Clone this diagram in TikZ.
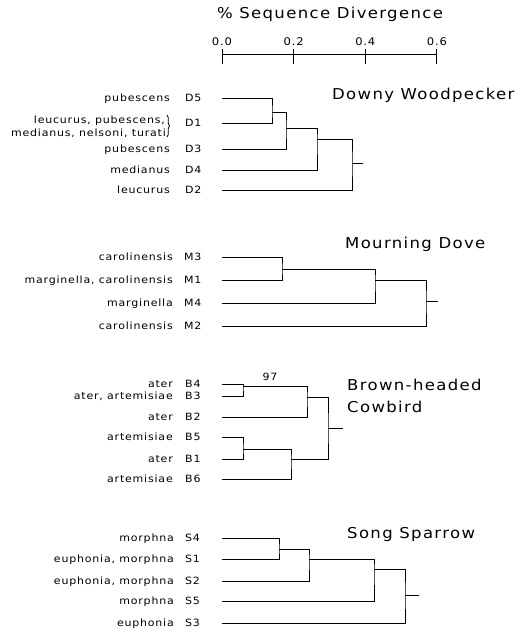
\documentclass[tikz,border=0pt]{standalone}
\usepackage{fontspec}
\setmainfont{DejaVu Sans}
\newfontfamily\labfont[FakeStretch=1.1,LetterSpace=8]{DejaVu Sans}
\newfontfamily\ttlfont[FakeStretch=1.1,LetterSpace=9]{DejaVu Sans}
\usetikzlibrary{decorations.pathreplacing}
\tikzset{
    branch/.style={line width=1pt},
    splab/.style={font=\labfont\fontsize{10}{12}\selectfont, anchor=base east, inner sep=0pt},
    idlab/.style={font=\labfont\fontsize{10}{12}\selectfont, anchor=base west, inner sep=0pt},
    ttl/.style={font=\ttlfont\fontsize{15}{17}\selectfont, anchor=west, inner sep=0pt}
}

\begin{document}
\begin{tikzpicture}[x=1pt,y=-1pt]
	\useasboundingbox (0,0) rectangle (525,633);

	% scale bar
	\node[ttl,anchor=center] (scaletitle) at (330,14) {\% Sequence Divergence};
	\coordinate (a0) at (222,54);
	\coordinate (a1) at (437,54);
	\draw[branch] (a0) -- (a1);
	\foreach \v [count=\i] in {0.0,0.2,0.4,0.6} {
		\coordinate (t\i) at ({222+\v*358.3},54);
		\draw[branch] (t\i) ++(0,-5) -- ++(0,15);
		\node[idlab,anchor=base,font=\labfont\fontsize{10.5}{12}\selectfont] (tl\i) at ({222+\v*358.3},45.5) {\v};
	}

	% Downy Woodpecker
	\node[ttl] (ttlD) at (332,95) {Downy Woodpecker};
	\foreach \y/\id/\sp in {98/D5/pubescens, 149/D3/pubescens, 170/D4/medianus, 190/D2/leucurus} {
		\coordinate (\id) at (222,\y);
		\node[idlab] (\id-id) at (185,\y+3.5) {\id};
		\node[splab] (\id-sp) at (170,\y+3.5) {\sp};
	}
	\coordinate (D1) at (222,123);
	\node[idlab] (D1-id) at (185,126.5) {D1};
	\node[splab] (D1-spa) at (165,123.5) {leucurus, pubescens,};
	\node[splab] (D1-spb) at (166,136.5) {medianus, nelsoni, turati};
	\draw[thick,decorate,decoration={brace,amplitude=2.5pt}] (167,115) -- (167,137);

	\coordinate (nD1) at (272,112);
	\coordinate (nD2) at (286,128);
	\coordinate (nD3) at (317,139);
	\coordinate (nD4) at (352,163);
	\coordinate (rD) at (363,163);
	\draw[branch] (D5) -| (nD1) |- (D1);
	\draw[branch] (nD1) -| (nD2) |- (D3);
	\draw[branch] (nD2) -| (nD3) |- (D4);
	\draw[branch] (nD3) -| (nD4) |- (D2);
	\draw[branch] (nD4) -- (rD);

	% Mourning Dove
	\node[ttl] (ttlM) at (345,244) {Mourning Dove};
	\foreach \y/\id/\sp in {257/M3/carolinensis, 280/M1/{marginella, carolinensis}, 303/M4/marginella, 326/M2/carolinensis} {
		\coordinate (\id) at (222,\y);
		\node[idlab] (\id-id) at (184,\y+3.5) {\id};
		\node[splab] (\id-sp) at (173,\y+3.5) {\sp};
	}
	\coordinate (nM1) at (282,269);
	\coordinate (nM2) at (375,280);
	\coordinate (nM3) at (426,301);
	\coordinate (rM) at (438,301);
	\draw[branch] (M3) -| (nM1) |- (M1);
	\draw[branch] (nM1) -| (nM2) |- (M4);
	\draw[branch] (nM2) -| (nM3) |- (M2);
	\draw[branch] (nM3) -- (rM);

	% Brown-headed Cowbird
	\node[ttl] (ttlB1) at (347,385) {Brown-headed};
	\node[ttl] (ttlB2) at (347,407) {Cowbird};
	\foreach \y/\id/\sp in {384/B4/ater, 396/B3/{ater, artemisiae}, 417/B2/ater, 437/B5/artemisiae, 459/B1/ater, 479/B6/artemisiae} {
		\coordinate (\id) at (222,\y);
		\node[idlab] (\id-id) at (185,\y+3.5) {\id};
		\node[splab] (\id-sp) at (173,\y+3.5) {\sp};
	}
	\coordinate (nB1) at (243,386);
	\coordinate (nB2) at (307,397);
	\coordinate (nB3) at (243,449);
	\coordinate (nB4) at (291,459);
	\coordinate (nB5) at (328,428);
	\coordinate (rB) at (343,428);
	\draw[branch] (B4) -| (nB1) |- (B3);
	\draw[branch] (nB1) -| (nB2) |- (B2);
	\draw[branch] (B5) -| (nB3) |- (B1);
	\draw[branch] (nB3) -| (nB4) |- (B6);
	\draw[branch] (nB2) -| (nB5) |- (nB4);
	\draw[branch] (nB5) -- (rB);
	\node[idlab,anchor=base] (boot) at (270,380.5) {97};

	% Song Sparrow
	\node[ttl] (ttlS) at (347,534) {Song Sparrow};
	\foreach \y/\id/\sp in {538/S4/morphna, 559/S1/{euphonia, morphna}, 581/S2/{euphonia, morphna}, 601/S5/morphna, 623/S3/euphonia} {
		\coordinate (\id) at (222,\y);
		\node[idlab] (\id-id) at (185,\y+3.5) {\id};
		\node[splab] (\id-sp) at (174,\y+3.5) {\sp};
	}
	\coordinate (nS1) at (279,549);
	\coordinate (nS2) at (309,559);
	\coordinate (nS3) at (374,569);
	\coordinate (nS4) at (405,595);
	\coordinate (rS) at (419,595);
	\draw[branch] (S4) -| (nS1) |- (S1);
	\draw[branch] (nS1) -| (nS2) |- (S2);
	\draw[branch] (nS2) -| (nS3) |- (S5);
	\draw[branch] (nS3) -| (nS4) |- (S3);
	\draw[branch] (nS4) -- (rS);
\end{tikzpicture}
\end{document}
